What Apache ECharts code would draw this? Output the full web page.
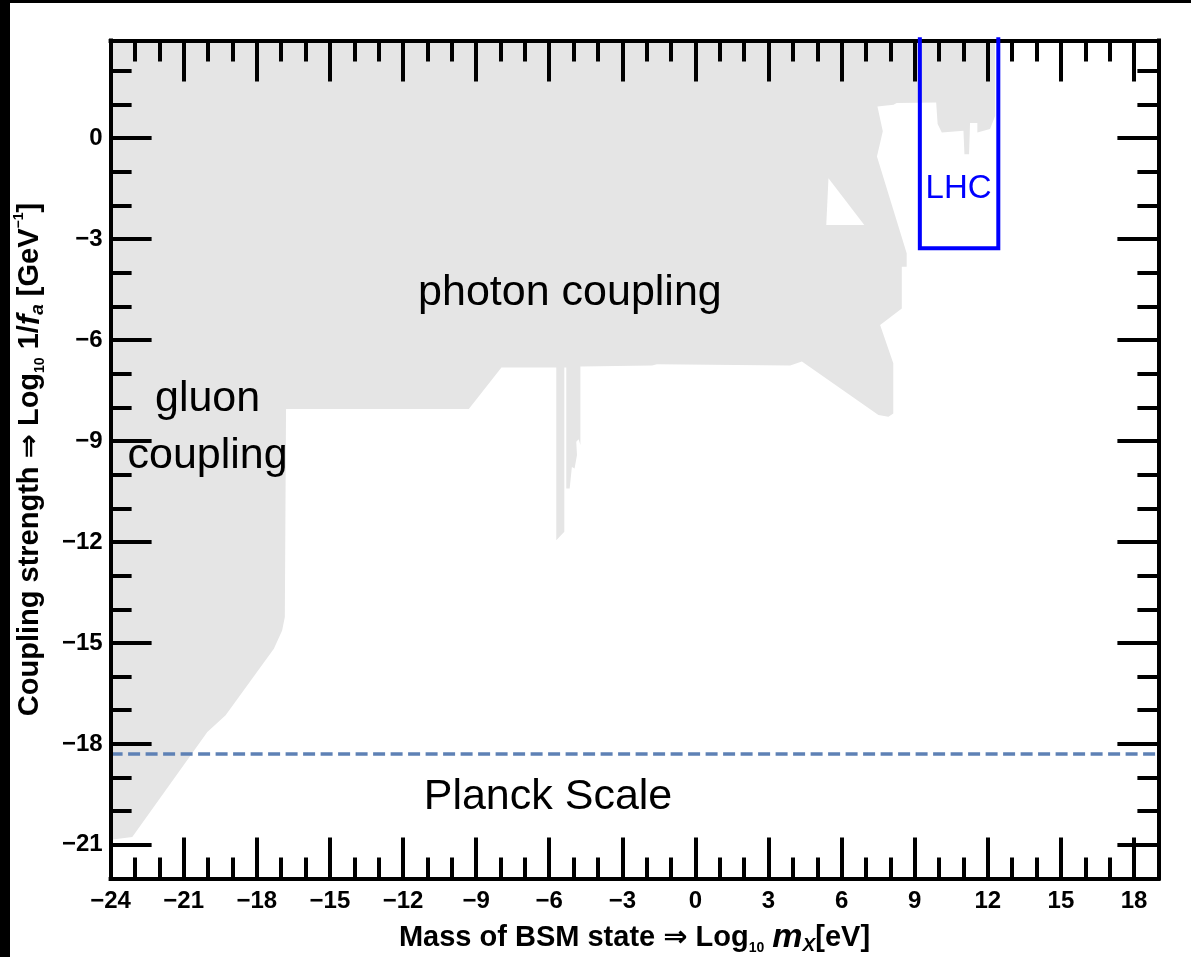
<!DOCTYPE html>
<html>
<head>
<meta charset="utf-8">
<script src="https://cdn.jsdelivr.net/npm/echarts@6/dist/echarts.min.js"></script>
<style>
html,body{margin:0;padding:0;background:#fff;}
#chart{width:1191px;height:957px;}
</style>
</head>
<body>
<div id="chart"></div>
<script>
// ---- tick values ----
const xMajorTicks = [-24,-21,-18,-15,-12,-9,-6,-3,0,3,6,9,12,15,18];
const xMinorTicks = [-24,-23,-22,-21,-20,-19,-18,-17,-16,-15,-14,-13,-12,-11,-10,-9,-8,-7,-6,-5,-4,-3,-2,-1,0,1,2,3,4,5,6,7,8,9,10,11,12,13,14,15,16,17,18];
const yMajorTicks = [-21,-18,-15,-12,-9,-6,-3,0];
const yMinorTicks = [-22,-21,-20,-19,-18,-17,-16,-15,-14,-13,-12,-11,-10,-9,-8,-7,-6,-5,-4,-3,-2,-1,0,1,2];

// ---- excluded (grey) region boundary: [log10 mX/eV, log10 1/fa/GeV^-1] ----
const excludedRegion = [
  [-24, 2.9], [-24, -20.85], [-23.11, -20.77], [-20.03, -17.65], [-19.28, -17.15],
  [-17.30, -15.17], [-16.96, -14.63], [-16.85, -14.23], [-16.80, -8.05], [-9.30, -8.05],
  [-7.96, -6.82], [-5.71, -6.82], [-5.71, -11.95], [-5.38, -11.70], [-5.38, -6.82],
  [-5.30, -6.82], [-5.30, -10.41], [-5.16, -10.41], [-5.07, -9.77], [-4.96, -9.82],
  [-4.86, -9.42], [-4.89, -9.02], [-4.79, -8.95], [-4.72, -9.12], [-4.72, -6.79],
  [-1.78, -6.76], [-1.58, -6.72], [3.89, -6.76], [4.37, -6.64], [7.51, -8.23],
  [7.92, -8.28], [8.12, -8.18], [8.12, -6.69], [7.58, -5.55], [8.47, -5.06],
  [8.47, -3.82], [8.67, -3.82], [8.67, -3.42], [7.45, -0.55], [7.69, 0.20],
  [7.47, 0.94], [8.13, 0.99], [8.26, 1.04], [9.88, 1.06], [9.94, 0.42],
  [10.11, 0.17], [11.00, 0.22], [11.04, -0.48], [11.23, -0.48], [11.27, 0.45],
  [11.57, 0.45], [11.57, 0.17], [12.09, 0.27], [12.30, 0.66], [12.30, 2.9]
];
// unexcluded triangle inside the region
const allowedHole = [[5.46, -1.19], [5.37, -2.58], [6.93, -2.58]];

// Planck scale line
const planckLine = [[-24, -18.3], [19, -18.3]];
// LHC reach box
const lhcBox = [[9.21, 3.0], [9.21, -3.27], [12.43, -3.27], [12.43, 3.0]];

// text annotations
const annotationTexts = ['photon coupling', 'gluon\ncoupling', 'Planck Scale', 'LHC'];
const annotationAnchors = [[-5.15, -4.60], [-20.02, -8.60], [-6.05, -19.58], [10.80, -1.50]];

const FONT = '"Liberation Sans", Arial, Helvetica, sans-serif';
const fmt = v => (v < 0 ? '\u2212' + Math.abs(v) : String(v));

const chart = echarts.init(document.getElementById('chart'), null, {renderer: 'canvas'});

function axis(pos, ticks, len, major, extra) {
  return Object.assign({
    type: 'value',
    position: pos,
    z: 3,
    axisLine: {show: major, onZero: false, lineStyle: {color: '#000', width: 4, cap: 'square'}},
    axisTick: {show: true, inside: true, length: len, customValues: ticks,
               lineStyle: {color: '#000', width: 4}},
    axisLabel: {show: false},
    splitLine: {show: false},
    minorTick: {show: false},
    axisPointer: {show: false}
  }, extra);
}

const labelStyle = {color: '#000', fontSize: 24, fontWeight: 'bold', fontFamily: FONT};

const xRange = {min: -24, max: 19};
const yRange = {min: -22, max: 2.9};

const titleRich = {
  t:   {fontSize: 29, fontWeight: 'bold', fontFamily: FONT, color: '#000', verticalAlign: 'middle', lineHeight: 35},
  op:  {fontSize: 29, fontWeight: 'bold', fontFamily: '"DejaVu Sans", sans-serif', color: '#000', verticalAlign: 'middle', lineHeight: 35},
  sub: {fontSize: 14, fontWeight: 'bold', fontFamily: FONT, color: '#000', verticalAlign: 'bottom', lineHeight: 16},
  sup: {fontSize: 14, fontWeight: 'bold', fontFamily: FONT, color: '#000', verticalAlign: 'top', lineHeight: 16},
  mi:  {fontSize: 34, fontWeight: 'bold', fontStyle: 'italic', fontFamily: FONT, color: '#000', verticalAlign: 'middle', lineHeight: 35},
  it:  {fontSize: 31, fontWeight: 'bold', fontStyle: 'italic', fontFamily: FONT, color: '#000', verticalAlign: 'middle', lineHeight: 35},
  isub:{fontSize: 19, fontWeight: 'bold', fontStyle: 'italic', fontFamily: FONT, color: '#000', verticalAlign: 'bottom', lineHeight: 20}
};

const option = {
  animation: false,
  backgroundColor: '#fff',
  grid: {left: 110.6, right: 32.6, top: 40.5, bottom: 78.5, containLabel: false, outerBoundsMode: 'none'},
  graphic: [
    {type: 'rect', shape: {x: 0, y: 0, width: 10, height: 957}, style: {fill: '#000'}, z: 100},
    {type: 'rect', shape: {x: 0, y: 0, width: 1191, height: 3}, style: {fill: '#000'}, z: 100}
  ],
  xAxis: [
    axis('bottom', xMajorTicks, 41, true, Object.assign({}, xRange, {
      axisLabel: Object.assign({show: true, customValues: xMajorTicks, formatter: fmt, margin: 11}, labelStyle),
      name: '{t|Mass of BSM state }{op|\u21D2}{t| Log}{sub|10}{t| }{mi|m}{isub|X}{t|[eV]}',
      nameLocation: 'middle',
      nameGap: 42,
      nameTextStyle: {rich: titleRich}
    })),
    axis('top', xMajorTicks, 41, true, Object.assign({}, xRange)),
    axis('bottom', xMinorTicks, 21, false, Object.assign({}, xRange)),
    axis('top', xMinorTicks, 21, false, Object.assign({}, xRange))
  ],
  yAxis: [
    axis('left', yMajorTicks, 41, true, Object.assign({}, yRange, {
      axisLabel: Object.assign({show: true, customValues: yMajorTicks, formatter: fmt, margin: 8}, labelStyle),
      name: '{t|Coupling strength }{op|\u21D2}{t| Log}{sub|10}{t| 1/}{it|f}{isub|a}{t| [GeV}{sup|\u22121}{t|]}',
      nameLocation: 'middle',
      nameGap: 63,
      nameTextStyle: {rich: titleRich}
    })),
    axis('right', yMajorTicks, 41, true, Object.assign({}, yRange)),
    axis('left', yMinorTicks, 21, false, Object.assign({}, yRange)),
    axis('right', yMinorTicks, 21, false, Object.assign({}, yRange))
  ],
  series: [
    {
      type: 'custom', name: 'excluded', xAxisIndex: 0, yAxisIndex: 0, z: 1, silent: true, clip: true,
      data: [excludedRegion[0]],
      renderItem: function (params, api) {
        return {type: 'polygon', shape: {points: excludedRegion.map(p => api.coord(p))},
                style: {fill: '#e5e5e5'}};
      }
    },
    {
      type: 'custom', name: 'hole', xAxisIndex: 0, yAxisIndex: 0, z: 1, silent: true, clip: true,
      data: [allowedHole[0]],
      renderItem: function (params, api) {
        return {type: 'polygon', shape: {points: allowedHole.map(p => api.coord(p))},
                style: {fill: '#ffffff'}};
      }
    },
    {
      type: 'line', name: 'Planck', xAxisIndex: 0, yAxisIndex: 0, z: 2, silent: true,
      data: planckLine, symbol: 'none',
      lineStyle: {color: '#5E81B5', width: 3.5, type: [12, 5.5]}
    },
    {
      type: 'line', name: 'LHC', xAxisIndex: 0, yAxisIndex: 0, z: 4, silent: true, clip: false,
      data: lhcBox, symbol: 'none',
      lineStyle: {color: '#0000ff', width: 4, join: 'miter', cap: 'butt'}
    },
    {
      type: 'scatter', name: 'labels', xAxisIndex: 0, yAxisIndex: 0, z: 5, silent: true,
      symbolSize: 0,
      itemStyle: {opacity: 1},
      data: annotationTexts.map((t, i) => {
        const item = {name: t, value: annotationAnchors[i]};
        if (t === 'LHC') item.label = {color: '#0000ff', fontSize: 33};
        return item;
      }),
      label: {show: true, position: 'inside', formatter: p => p.name, color: '#000', opacity: 1,
              fontSize: 43, fontFamily: FONT, lineHeight: 57, align: 'center', verticalAlign: 'middle'}
    }
  ]
};
chart.setOption(option);
</script>
</body>
</html>
